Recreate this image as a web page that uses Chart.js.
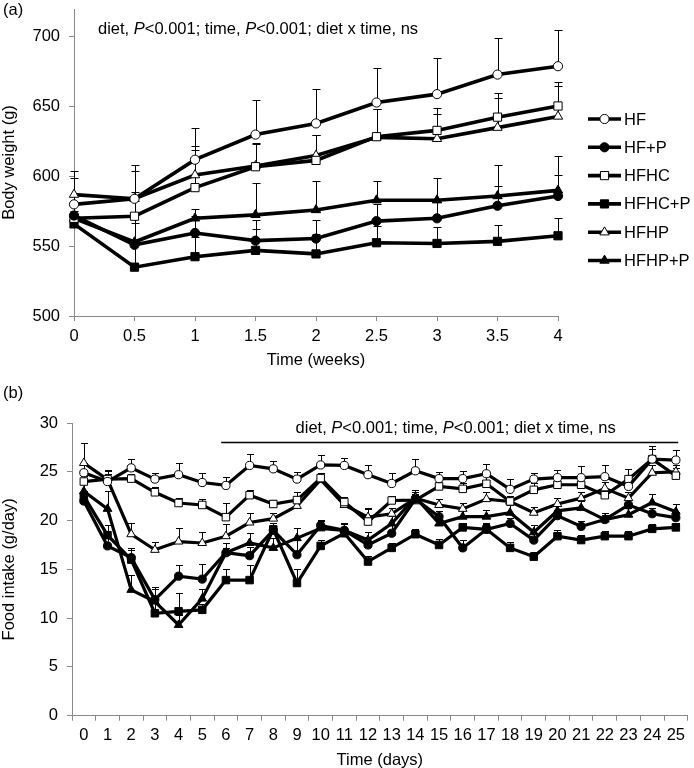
<!DOCTYPE html>
<html><head><meta charset="utf-8">
<script src="https://cdn.jsdelivr.net/npm/chart.js@4.4.1/dist/chart.umd.min.js"></script>
<style>
html,body{margin:0;padding:0;background:#fff;overflow:hidden;width:694px;height:768px;}
canvas{position:absolute;left:0;}
#c1{top:0;} #c2{top:370px;}
</style></head><body>
<canvas id="c1" width="694" height="370"></canvas>
<canvas id="c2" width="694" height="400"></canvas>
<script>
// ---------- DATA ----------
const seriesNames = ['HF', 'HF+P', 'HFHC', 'HFHC+P', 'HFHP', 'HFHP+P'];

// (a) body weight, g
const weeks = [0, 0.5, 1, 1.5, 2, 2.5, 3, 3.5, 4];
const bwHF    = [580, 584, 612, 630, 638, 653, 659, 673, 679];
const bwHFP   = [572, 551, 559.5, 554, 555.5, 568, 570, 579, 586];
const bwHFHC  = [570, 571.5, 592, 607, 611.5, 628.5, 633, 642.5, 650.5];
const bwHFHCP = [566, 535, 542.5, 547, 544.5, 552.5, 552, 553.5, 557.5];
const bwHFHP  = [587, 584, 601, 607.5, 615, 628, 627, 635, 643];
const bwHFHPP = [570, 553, 570, 572.5, 576, 583, 583, 586, 590];
const bwErrHF    = [19, 24, 23, 25, 25, 25, 26, 26, 26];
const bwErrHFP   = [10, 34, 12.5, 15, 13.5, 12, 12, 14, 15];
const bwErrHFHC  = [12, 17.5, 30, 17, 18.5, 20, 16, 17, 17];
const bwErrHFHCP = [9, 16, 14, 15, 14, 12, 12, 12, 13];
const bwErrHFHP  = [17, 20, 18, 16, 15, 20, 18, 21, 22];
const bwErrHFHPP = [12, 14, 7, 22.5, 21, 14, 16, 22, 25];
const bwTicks = [500, 550, 600, 650, 700];

// (b) food intake, g/day
const days = ['0','1','2','3','4','5','6','7','8','9','10','11','12','13','14','15','16','17','18','19','20','21','22','23','24','25'];
const fiHF    = [24.9, 24.0, 25.4, 24.25, 24.7, 23.9, 23.6, 25.65, 25.3, 24.25, 25.7, 25.65, 24.7, 23.8, 25.1, 24.3, 24.3, 24.8, 23.2, 24.25, 24.4, 24.4, 24.5, 23.5, 26.3, 26.2];
const fiHFP   = [22.0, 17.4, 16.2, 11.9, 14.3, 14.0, 16.7, 16.4, 19.0, 16.5, 19.5, 19.0, 17.5, 18.7, 22.2, 20.4, 17.2, 19.1, 19.7, 18.0, 20.5, 19.4, 20.1, 21.6, 20.7, 20.3];
const fiHFHC  = [24.0, 24.25, 24.3, 22.9, 21.8, 21.6, 20.35, 22.6, 21.7, 22.1, 24.35, 21.9, 19.9, 22.06, 22.1, 23.5, 23.25, 23.77, 21.96, 23.15, 23.67, 23.67, 22.6, 24.25, 26.3, 24.6];
const fiHFHCP = [22.5, 18.5, 16.0, 10.5, 10.7, 10.85, 13.9, 13.9, 19.1, 13.6, 17.4, 18.7, 15.8, 17.2, 18.6, 17.5, 19.3, 19.1, 17.2, 16.3, 18.4, 18.0, 18.4, 18.4, 19.15, 19.3];
const fiHFHP  = [25.9, 24.2, 18.6, 17.0, 17.85, 17.7, 18.4, 19.8, 20.2, 21.5, 24.2, 21.6, 20.35, 20.7, 22.3, 21.6, 21.2, 22.2, 21.96, 20.8, 21.7, 22.3, 23.3, 22.3, 24.9, 25.0];
const fiHFHPP = [23.0, 21.2, 12.9, 11.7, 9.3, 12.0, 16.7, 17.7, 17.2, 18.2, 19.2, 19.0, 18.0, 19.7, 22.4, 19.7, 20.4, 20.4, 20.8, 18.8, 21.0, 21.3, 20.1, 20.6, 21.85, 20.9];
const fiErrHF    = [1.0, 0.8, 0.9, 0.65, 1.2, 1.0, 0.9, 1.15, 0.8, 0.75, 1.0, 0.8, 1.0, 1.1, 1.2, 0.7, 0.8, 1.0, 1.1, 0.65, 0.8, 1.2, 1.2, 1.0, 1.0, 1.0];
const fiErrHFP   = [0.6, 0.8, 1.0, 1.3, 1.1, 1.5, 0.5, 0.9, 0.8, 1.5, 0.6, 0.6, 0.8, 0.8, 0.5, 0.6, 0.8, 0.5, 0.6, 0.7, 0.6, 0.6, 0.5, 0.6, 0.6, 0.6];
const fiErrHFHC  = [0.6, 0.8, 0.5, 0.5, 0.5, 0.6, 1.4, 0.5, 0.4, 0.8, 0.5, 0.5, 1.4, 0.5, 0.5, 0.7, 0.6, 0.8, 0.6, 0.7, 0.8, 0.8, 0.6, 1.0, 1.3, 0.8];
const fiErrHFHCP = [0.5, 1.0, 1.0, 2.7, 1.9, 0.6, 1.1, 1.5, 0.6, 1.4, 0.6, 0.5, 0.6, 0.5, 0.5, 0.6, 0.5, 0.6, 0.6, 0.5, 0.6, 0.5, 0.5, 0.5, 0.5, 0.5];
const fiErrHFHP  = [2.0, 1.0, 1.1, 0.8, 1.4, 1.1, 1.2, 1.0, 0.6, 1.4, 0.5, 0.5, 0.8, 0.6, 0.6, 0.6, 0.6, 0.7, 0.6, 0.6, 0.6, 0.6, 0.7, 0.6, 0.8, 0.7];
const fiErrHFHPP = [1.0, 1.8, 1.5, 1.3, 1.0, 1.0, 1.0, 1.0, 1.0, 1.0, 0.8, 0.7, 0.8, 0.8, 0.7, 0.8, 0.7, 0.7, 0.8, 0.7, 0.7, 0.7, 0.7, 0.7, 0.9, 0.8];
const fiTicks = [0, 5, 10, 15, 20, 25, 30];

// ---------- STYLE ----------
const FONT = "'Liberation Sans', Arial, sans-serif";
const FS = 16.5;
const AXIS = '#898989';
const markerStyles = ['circle', 'circle', 'rect', 'rect', 'triangle', 'triangle'];
const markerFills  = ['#fff', '#000', '#fff', '#000', '#fff', '#000'];
Chart.defaults.font.family = FONT;
Chart.defaults.font.size = FS;
Chart.defaults.color = '#000';

function radiusFor(style, big) {
  if (style === 'circle') return big ? 4.6 : 4.1;
  if (style === 'rect') return big ? 5.8 : 5.3;
  return big ? 5.4 : 5.0;
}

function makeDatasets(valueArrs, errArrs, xs, big) {
  return valueArrs.map((vals, i) => ({
    label: seriesNames[i],
    data: xs ? vals.map((v, j) => ({x: xs[j], y: v})) : vals,
    errors: errArrs[i],
    borderColor: '#000',
    borderWidth: big ? 3.6 : 3.2,
    pointStyle: markerStyles[i],
    pointRadius: radiusFor(markerStyles[i], big),
    pointBackgroundColor: markerFills[i],
    pointBorderColor: '#000',
    pointBorderWidth: 1,
    fill: false,
    tension: 0,
    clip: false
  }));
}

const errorBars = {
  id: 'errorBars',
  beforeDatasetsDraw(chart, args, opts) {
    const ctx = chart.ctx, ys = chart.scales.y;
    const cap = opts.cap || 4;
    chart.data.datasets.forEach((ds, i) => {
      const meta = chart.getDatasetMeta(i);
      if (!ds.errors) return;
      ctx.save();
      ctx.strokeStyle = '#000';
      ctx.lineWidth = 1;
      meta.data.forEach((pt, j) => {
        const d = ds.data[j];
        const val = (typeof d === 'object') ? d.y : d;
        const yTop = Math.round(ys.getPixelForValue(val + ds.errors[j])) + 0.5;
        const x = Math.round(pt.x) + 0.5;
        ctx.beginPath();
        ctx.moveTo(x, pt.y);
        ctx.lineTo(x, yTop);
        ctx.moveTo(x - cap, yTop);
        ctx.lineTo(x + cap, yTop);
        ctx.stroke();
      });
      ctx.restore();
    });
  }
};

function drawMixed(ctx, parts, x, y, align) {
  ctx.save();
  ctx.textBaseline = 'middle';
  ctx.fillStyle = '#000';
  const fontN = FS + 'px ' + FONT, fontI = 'italic ' + FS + 'px ' + FONT;
  let total = 0;
  parts.forEach(p => { ctx.font = p[1] ? fontI : fontN; total += ctx.measureText(p[0]).width; });
  let cx = align === 'center' ? x - total / 2 : x;
  ctx.textAlign = 'left';
  parts.forEach(p => { ctx.font = p[1] ? fontI : fontN; ctx.fillText(p[0], cx, y); cx += ctx.measureText(p[0]).width; });
  ctx.restore();
}
const statParts = [['diet, ', false], ['P', true], ['<0.001; time, ', false], ['P', true], ['<0.001; diet x time, ns', false]];

function drawMarker(ctx, style, x, y, r, fill) {
  ctx.beginPath();
  if (style === 'circle') {
    ctx.arc(x, y, r, 0, Math.PI * 2);
  } else if (style === 'rect') {
    const s = r * Math.SQRT1_2;
    ctx.rect(x - s, y - s, 2 * s, 2 * s);
  } else {
    let a = 0;
    ctx.moveTo(x + Math.sin(a) * r, y - Math.cos(a) * r);
    a += 2 * Math.PI / 3; ctx.lineTo(x + Math.sin(a) * r, y - Math.cos(a) * r);
    a += 2 * Math.PI / 3; ctx.lineTo(x + Math.sin(a) * r, y - Math.cos(a) * r);
    ctx.closePath();
  }
  ctx.fillStyle = fill; ctx.fill();
  ctx.strokeStyle = '#000'; ctx.lineWidth = 1; ctx.stroke();
}

const panelA = {
  id: 'panelA',
  afterDraw(chart) {
    const ctx = chart.ctx, ca = chart.chartArea;
    ctx.save();
    ctx.font = FS + 'px ' + FONT; ctx.fillStyle = '#000';
    ctx.textBaseline = 'middle'; ctx.textAlign = 'left';
    ctx.fillText('(a)', 3, 10);
    ctx.restore();
    drawMixed(ctx, statParts, ca.left + 24, 29, 'left');
    // legend
    const lx = ca.right + 30;
    seriesNames.forEach((n, i) => {
      const y = 119 + i * 28.3;
      ctx.save();
      ctx.strokeStyle = '#000'; ctx.lineWidth = 3.6;
      ctx.beginPath(); ctx.moveTo(lx, y); ctx.lineTo(lx + 33, y); ctx.stroke();
      drawMarker(ctx, markerStyles[i], lx + 16.5, y, radiusFor(markerStyles[i], true), markerFills[i]);
      ctx.font = FS + 'px ' + FONT; ctx.fillStyle = '#000';
      ctx.textBaseline = 'middle'; ctx.textAlign = 'left';
      ctx.fillText(n, lx + 36, y + 1);
      ctx.restore();
    });
  }
};

const panelB = {
  id: 'panelB',
  afterDraw(chart) {
    const ctx = chart.ctx, ca = chart.chartArea, xs = chart.scales.x, ys = chart.scales.y;
    ctx.save();
    ctx.font = FS + 'px ' + FONT; ctx.fillStyle = '#000';
    ctx.textBaseline = 'middle'; ctx.textAlign = 'left';
    ctx.fillText('(b)', 3, 23);
    ctx.restore();
    const x0 = xs.getPixelForValue(5.8), x1 = xs.getPixelForValue(25.1);
    const yl = ys.getPixelForValue(28.0);
    ctx.save();
    ctx.strokeStyle = '#000'; ctx.lineWidth = 1.3;
    ctx.beginPath(); ctx.moveTo(x0, yl); ctx.lineTo(x1, yl); ctx.stroke();
    ctx.restore();
    drawMixed(ctx, statParts, (xs.getPixelForValue(9.0) + xs.getPixelForValue(22.4)) / 2, ca.top + 5.5, 'center');
  }
};

function axisCommon() {
  return {
    grid: {drawOnChartArea: false, drawTicks: true, tickLength: 5, color: AXIS},
    border: {display: true, color: AXIS, width: 1}
  };
}
function noPadY(s, w) { s.width = w; s.paddingTop = 0; s.paddingBottom = 0; }
function noPadX(s, h) { s.height = h; s.paddingLeft = 0; s.paddingRight = 0; }

// ---------- CHART A ----------
new Chart(document.getElementById('c1'), {
  type: 'line',
  data: {datasets: makeDatasets([bwHF, bwHFP, bwHFHC, bwHFHCP, bwHFHP, bwHFHPP],
                                [bwErrHF, bwErrHFP, bwErrHFHC, bwErrHFHCP, bwErrHFHP, bwErrHFHPP], weeks, true)},
  options: {
    responsive: false, animation: false, devicePixelRatio: 1,
    layout: {padding: {left: 0, right: 136, top: 9, bottom: 0}},
    plugins: {legend: {display: false}, tooltip: {enabled: false}, errorBars: {cap: 4}},
    scales: {
      x: Object.assign(axisCommon(), {
        type: 'linear', min: 0, max: 4,
        afterBuildTicks: s => { s.ticks = weeks.map(v => ({value: v})); },
        ticks: {padding: 6, maxRotation: 0, autoSkip: false, callback: v => String(v)},
        title: {display: true, text: 'Time (weeks)', padding: {top: 0, bottom: 0}},
        afterFit: s => noPadX(s, 54)
      }),
      y: Object.assign(axisCommon(), {
        min: 500, max: 720,
        afterBuildTicks: s => { s.ticks = bwTicks.map(v => ({value: v})); },
        ticks: {padding: 9},
        title: {display: true, text: 'Body weight (g)', padding: {top: 0, bottom: 0}},
        afterFit: s => noPadY(s, 74)
      })
    }
  },
  plugins: [errorBars, panelA]
});

// ---------- CHART B ----------
new Chart(document.getElementById('c2'), {
  type: 'line',
  data: {labels: days,
         datasets: makeDatasets([fiHF, fiHFP, fiHFHC, fiHFHCP, fiHFHP, fiHFHPP],
                                [fiErrHF, fiErrHFP, fiErrHFHC, fiErrHFHCP, fiErrHFHP, fiErrHFHPP], null, false)},
  options: {
    responsive: false, animation: false, devicePixelRatio: 1,
    layout: {padding: {left: 0, right: 2, top: 53, bottom: 0}},
    plugins: {legend: {display: false}, tooltip: {enabled: false}, errorBars: {cap: 3.5}},
    scales: {
      x: (function(){ const a = axisCommon(); a.grid.offset = true; return Object.assign(a, {
        type: 'category', offset: true,
        ticks: {padding: 5, maxRotation: 0, minRotation: 0, autoSkip: false},
        title: {display: true, text: 'Time (days)', padding: {top: 0, bottom: 0}},
        afterFit: s => noPadX(s, 54.3)
      }); })(),
      y: Object.assign(axisCommon(), {
        min: 0, max: 30,
        afterBuildTicks: s => { s.ticks = fiTicks.map(v => ({value: v})); },
        ticks: {padding: 9},
        title: {display: true, text: 'Food intake (g/day)', padding: {top: 0, bottom: 0}},
        afterFit: s => noPadY(s, 72)
      })
    }
  },
  plugins: [errorBars, panelB]
});
</script>
</body></html>
